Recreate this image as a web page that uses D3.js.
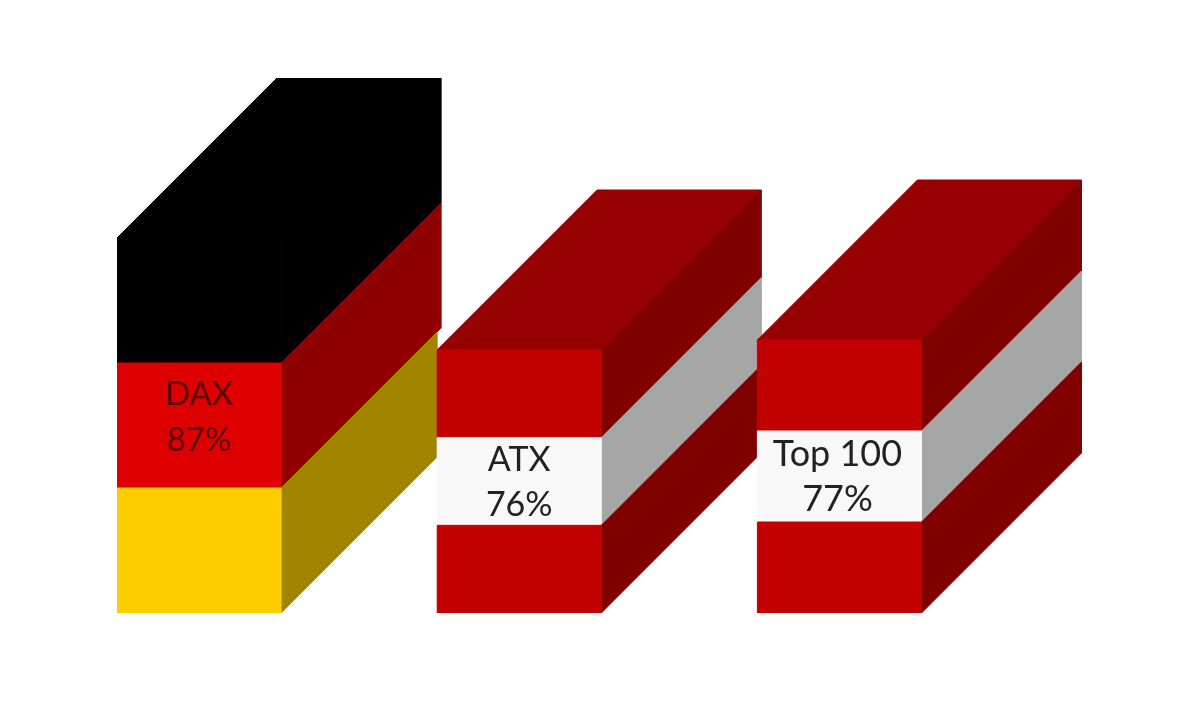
<!DOCTYPE html>
<html>
<head>
<meta charset="utf-8">
<script src="https://cdn.jsdelivr.net/npm/d3@7/dist/d3.min.js"></script>
<style>
html,body{margin:0;padding:0;background:#fff;overflow:hidden}
svg{display:block}
text{font-family:Lato,"Open Sans",sans-serif;text-anchor:middle}
</style>
</head>
<body>
<svg id="chart" width="1200" height="727">
  <defs><filter id="soft" x="0" y="0" width="100%" height="100%"><feGaussianBlur stdDeviation="0.55"/></filter></defs>
</svg>
<script>
// Data
const categories = ["DAX", "ATX", "Top 100"];
const values = [87, 76, 77];
const valueLabels = ["87%", "76%", "77%"];
const topColors = ["#000000", "#970000", "#970000"];
const frontColors = [
  ["#000000", "#DE0000", "#FFCC00"],
  ["#C30000", "#F8F8F8", "#C30000"],
  ["#C30000", "#F8F8F8", "#C30000"]
];
const sideColors = [
  ["#000000", "#900000", "#A38400"],
  ["#800000", "#A6A6A6", "#800000"],
  ["#800000", "#A6A6A6", "#800000"]
];
const textColors = ["#570000", "#222222", "#222222"];

const svg = d3.select("#chart");
const root = svg.append("g").attr("filter", "url(#soft)");
const x = d3.scaleBand().domain(categories).range([117, 921.5]).paddingInner(0.4875).paddingOuter(0).align(0);
// The value axis is truncated, as the picture's heights show
const y = d3.scaleLinear().domain([49.85, 76, 77, 87]).range([613, 350, 340, 238]);

const depth = 160;
const bottomDepth = {"DAX":156, "ATX":156, "Top 100":160};
const labelLayout = {
  "DAX":     {dx:0,  y1:-21, y2:25, size:33},
  "ATX":     {dx:0,  y1:-11, y2:34, size:34},
  "Top 100": {dx:-2, y1:-11, y2:34, size:36}
};
const line = d3.line();
const nBands = 3;

categories.forEach((cat, i) => {
  const g = root.append("g");
  const x0 = x(cat), x1 = x0 + x.bandwidth();
  const yTop = y(values[i]), yBase = y.range()[0];
  const bh = (yBase - yTop) / nBands;
  const shape = (pts, fill) => g.append("path").attr("fill", fill)
    .attr("stroke", fill).attr("stroke-width", 1)
    .attr("d", line(pts) + "Z");

  // top face
  shape([[x0,yTop],[x0+depth,yTop-depth],[x1+depth,yTop-depth],[x1,yTop]], topColors[i]);
  // side and front stripes
  d3.range(nBands).forEach(b => {
    const t = yTop + b*bh, u = t + bh;
    const d = b === nBands-1 ? bottomDepth[cat] : depth;
    shape([[x1,t],[x1+d,t-d],[x1+d,u-d],[x1,u]], sideColors[i][b]);
    shape([[x0,t],[x1,t],[x1,u],[x0,u]], frontColors[i][b]);
  });
  // label in the middle stripe
  const L = labelLayout[cat];
  const mid = yTop + 1.5*bh;
  const cx = (x0+x1)/2 + L.dx;
  g.append("text").attr("x",cx).attr("y",mid+L.y1).attr("font-size",L.size).attr("fill",textColors[i]).text(cat);
  g.append("text").attr("x",cx).attr("y",mid+L.y2).attr("font-size",L.size).attr("fill",textColors[i]).text(valueLabels[i]);
});
</script>
</body>
</html>
